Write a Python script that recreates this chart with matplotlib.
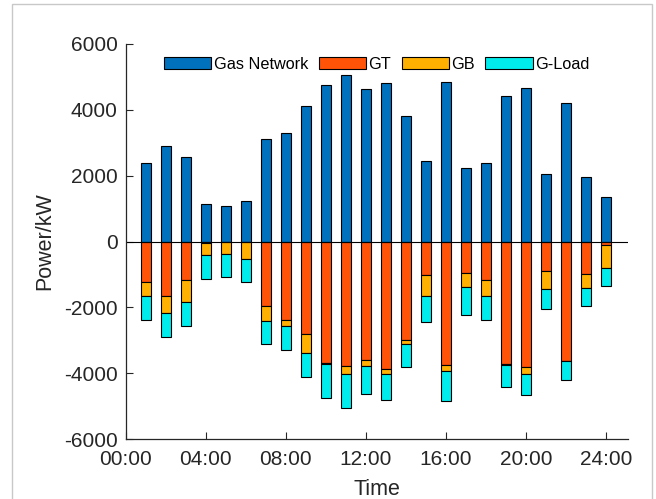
#!/usr/bin/env python3
"""Gas-side power balance over a day: supply positive, consumption stacked negative."""

import matplotlib

matplotlib.use("Agg")
import matplotlib.pyplot as plt
from matplotlib.patches import Rectangle
import numpy as np

plt.rcParams["font.family"] = ["Liberation Sans", "DejaVu Sans"]
plt.rcParams["axes.unicode_minus"] = False

HOURS = list(range(1, 25))
GAS_NETWORK = [2380, 2900, 2560, 1130, 1090, 1230, 3100, 3300, 4100, 4760, 5060, 4620,
               4820, 3820, 2440, 4840, 2240, 2380, 4420, 4670, 2060, 4210, 1960, 1360]
GT = [1240, 1650, 1170, 30, 0, 0, 1970, 2370, 2810, 3690, 3790, 3590,
      3860, 2980, 1020, 3760, 970, 1160, 3710, 3800, 910, 3620, 1000, 100]
GB = [425, 530, 670, 380, 370, 520, 430, 210, 560, 30, 220, 190,
      170, 120, 620, 180, 410, 490, 50, 210, 520, 0, 400, 690]
G_LOAD = [715, 720, 720, 720, 720, 710, 700, 720, 730, 1040, 1050, 840,
          790, 720, 800, 900, 860, 730, 660, 660, 630, 590, 560, 570]
X_TICKS = [0, 4, 8, 12, 16, 20, 24]
X_LABELS = ["00:00", "04:00", "08:00", "12:00", "16:00", "20:00", "24:00"]
Y_TICKS = [-6000, -4000, -2000, 0, 2000, 4000, 6000]

COLORS = {
    "Gas Network": "#0072BD",
    "GT": "#FF5308",
    "GB": "#FFB000",
    "G-Load": "#00EBEB",
}


def main() -> None:
    fig = plt.figure(figsize=(6.56, 4.99), dpi=100)
    ax = fig.add_axes([0.192, 0.120, 0.765, 0.792])

    x = np.array(HOURS)
    gt = -np.array(GT, dtype=float)
    gb = -np.array(GB, dtype=float)
    load = -np.array(G_LOAD, dtype=float)
    style = dict(width=0.48, edgecolor="black", linewidth=0.8)

    ax.bar(x, GAS_NETWORK, color=COLORS["Gas Network"], label="Gas Network", **style)
    ax.bar(x, gt, color=COLORS["GT"], label="GT", **style)
    ax.bar(x, gb, bottom=gt, color=COLORS["GB"], label="GB", **style)
    ax.bar(x, load, bottom=gt + gb, color=COLORS["G-Load"], label="G-Load", **style)
    ax.axhline(0, color="black", linewidth=0.8)

    ax.set_xlim(0, 25.1)
    ax.set_ylim(-6000, 6000)
    ax.set_xticks(X_TICKS, X_LABELS)
    ax.set_yticks(Y_TICKS)
    ax.tick_params(direction="in", labelsize=15, length=5, width=0.8, colors="#262626")
    ax.tick_params(axis="x", pad=8)
    ax.tick_params(axis="y", pad=6)
    for side in ("top", "right"):
        ax.spines[side].set_visible(False)
    for side in ("left", "bottom"):
        ax.spines[side].set_color("#262626")
        ax.spines[side].set_linewidth(0.9)
    ax.set_xlabel("Time", fontsize=15.5, labelpad=7, color="#262626")
    ax.set_ylabel("Power/kW", fontsize=15.5, labelpad=6, color="#262626")

    ax.legend(loc="upper center", bbox_to_anchor=(0.5, 1.0), ncol=4, frameon=False,
              fontsize=11.7, handlelength=2.9, handleheight=0.75, handletextpad=0.15,
              columnspacing=0.65, borderaxespad=0.4)

    fig.patches.append(Rectangle((12 / 656, -0.1), 640 / 656, 1.1 - 4 / 499,
                                 transform=fig.transFigure, fill=False,
                                 edgecolor="#c8c8c8", linewidth=1.0))
    fig.savefig("out.png", dpi=100)
    plt.close(fig)


if __name__ == "__main__":
    main()
